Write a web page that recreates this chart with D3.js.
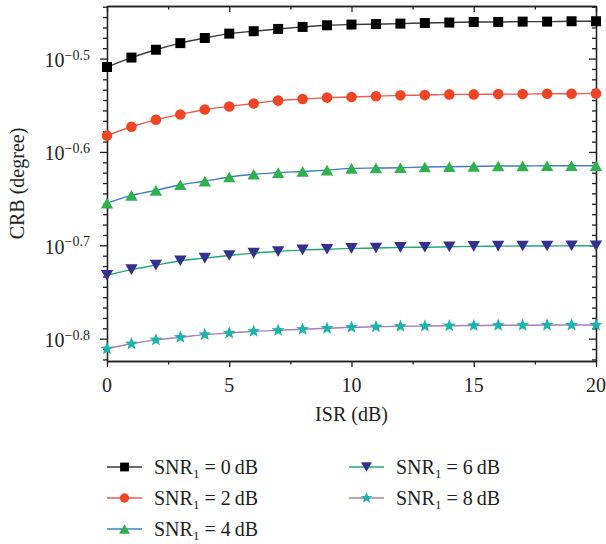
<!DOCTYPE html>
<html>
<head>
	<meta charset="utf-8">
	<style>
		html, body {
			margin: 0;
			padding: 0;
			background: #fff;
		}
		svg text {
			font-family: 'Liberation Serif', 'DejaVu Serif', serif;
			fill: #231f20;
		}
	</style>
</head>
<body>
	<script src="https://d3js.org/d3.v7.min.js"></script>
	<script>
		// ISR values on the x axis (dB)
		var isr = [0, 1, 2, 3, 4, 5, 6, 7, 8, 9, 10, 11, 12, 13, 14, 15, 16, 17, 18, 19, 20];

		// CRB (degree), one array per SNR1
		var crb0 = [0.3097, 0.3170, 0.3232, 0.3285, 0.3327, 0.3363, 0.3383, 0.3402, 0.3419, 0.3433, 0.3439,
			0.3443, 0.3447, 0.3452, 0.3456, 0.3461, 0.3461, 0.3464, 0.3464, 0.3467, 0.3467];
		var crb2 = [0.2615, 0.2673, 0.2719, 0.2755, 0.2789, 0.2810, 0.2831, 0.2851, 0.2862, 0.2872, 0.2876,
			0.2882, 0.2888, 0.2890, 0.2895, 0.2895, 0.2897, 0.2897, 0.2900, 0.2900, 0.2902];
		var crb4 = [0.2214, 0.2257, 0.2285, 0.2317, 0.2337, 0.2361, 0.2377, 0.2387, 0.2394, 0.2402, 0.2412,
			0.2414, 0.2416, 0.2420, 0.2422, 0.2424, 0.2426, 0.2426, 0.2428, 0.2428, 0.2428];
		var crb6 = [0.1853, 0.1879, 0.1900, 0.1921, 0.1933, 0.1946, 0.1957, 0.1965, 0.1973, 0.1976, 0.1980,
			0.1982, 0.1985, 0.1986, 0.1988, 0.1990, 0.1991, 0.1992, 0.1992, 0.1993, 0.1993];
		var crb8 = [0.1546, 0.1565, 0.1580, 0.1590, 0.1601, 0.1607, 0.1614, 0.1618, 0.1622, 0.1626, 0.1630,
			0.1632, 0.1634, 0.1635, 0.1636, 0.1637, 0.1638, 0.1638, 0.1639, 0.1639, 0.1639];

		var snrLabels = ["0", "2", "4", "6", "8"];
		var xTicks = [0, 5, 10, 15, 20];
		var yTickExps = [-0.8, -0.7, -0.6, -0.5];
		var yTickLabels = ["\u22120.8", "\u22120.7", "\u22120.6", "\u22120.5"];

		var series = [crb0, crb2, crb4, crb6, crb8];
		var lineColors = ["#3a3a3a", "#f25a4c", "#3b7fc4", "#1fa877", "#a97cc0"];
		var markColors = ["#000000", "#f04524", "#2eb04b", "#35308f", "#19b5aa"];
		var shapes = ["square", "circle", "up", "down", "star"];

		var L = 107, R = 596, T = 6, B = 361;

		var svg = d3.select("body").append("svg")
			.attr("width", 606)
			.attr("height", 544);

		var x = d3.scaleLinear().domain([0, 20]).range([L, R]);
		var y = d3.scaleLog().domain([0.15, 0.36]).range([B, T]);

		// minor tick positions: 8 per tenth of a decade
		var xMinor = [2.5, 7.5, 12.5, 17.5];
		var yMinor = [];
		for (var k = -2; k <= 32; k++) {
			if (k % 9 == 0) continue;
			var v = Math.pow(10, -0.8 + k * 0.1 / 9);
			if (v >= 0.15 && v <= 0.36) yMinor.push(v);
		}
		var yMajor = yTickExps.map(function(e) { return Math.pow(10, e); });

		function styleAxis(g) {
			g.selectAll("path, line")
				.attr("stroke", "#231f20")
				.attr("stroke-width", 1.3);
			g.selectAll("text").remove();
		}

		// minor ticks first, then major with labels
		svg.append("g").attr("transform", "translate(0," + B + ")")
			.call(d3.axisBottom(x).tickValues(xMinor).tickSize(3.5).tickSizeOuter(0)).call(styleAxis);
		svg.append("g").attr("transform", "translate(0," + T + ")")
			.call(d3.axisTop(x).tickValues(xMinor).tickSize(-3.5).tickSizeOuter(0)).call(styleAxis);
		svg.append("g").attr("transform", "translate(" + L + ",0)")
			.call(d3.axisLeft(y).tickValues(yMinor).tickSize(4).tickSizeOuter(0)).call(styleAxis);
		svg.append("g").attr("transform", "translate(" + R + ",0)")
			.call(d3.axisRight(y).tickValues(yMinor).tickSize(-4).tickSizeOuter(0)).call(styleAxis);

		svg.append("g").attr("transform", "translate(0," + B + ")")
			.call(d3.axisBottom(x).tickValues(xTicks).tickSize(6).tickSizeOuter(0)).call(styleAxis);
		svg.append("g").attr("transform", "translate(0," + T + ")")
			.call(d3.axisTop(x).tickValues(xTicks).tickSize(-6).tickSizeOuter(0)).call(styleAxis);
		svg.append("g").attr("transform", "translate(" + L + ",0)")
			.call(d3.axisLeft(y).tickValues(yMajor).tickSize(7).tickSizeOuter(0)).call(styleAxis);
		svg.append("g").attr("transform", "translate(" + R + ",0)")
			.call(d3.axisRight(y).tickValues(yMajor).tickSize(-7).tickSizeOuter(0)).call(styleAxis);

		// tick labels
		svg.selectAll(".xlab")
			.data(xTicks)
			.enter()
		  .append("text")
			.attr("class", "xlab")
			.attr("x", function(d) { return x(d); })
			.attr("y", B + 31)
			.attr("text-anchor", "middle")
			.attr("font-size", "20px")
			.text(function(d) { return d; });

		var ylab = svg.selectAll(".ylab")
			.data(yMajor)
			.enter()
		  .append("text")
			.attr("class", "ylab")
			.attr("x", 90)
			.attr("y", function(d) { return y(d) + 8.5; })
			.attr("text-anchor", "end")
			.attr("font-size", "20px");
		ylab.append("tspan").text("10");
		ylab.append("tspan")
			.attr("dy", -7.5)
			.attr("font-size", "14px")
			.text(function(d, i) { return yTickLabels[i]; });

		// axis titles
		svg.append("text")
			.attr("x", (L + R) / 2)
			.attr("y", 421)
			.attr("text-anchor", "middle")
			.attr("font-size", "20px")
			.text("ISR (dB)");

		svg.append("text")
			.attr("transform", "translate(24," + ((T + B) / 2) + ") rotate(-90)")
			.attr("text-anchor", "middle")
			.attr("font-size", "20px")
			.text("CRB (degree)");

		// markers
		function markerPath(shape, s) {
			if (shape == "square") {
				return "M" + (-5 * s) + "," + (-5 * s) + "h" + (10 * s) + "v" + (10 * s) + "h" + (-10 * s) + "Z";
			}
			if (shape == "circle") {
				var r = 5.3 * s;
				return "M" + (-r) + ",0A" + r + "," + r + " 0 1,0 " + r + ",0A" + r + "," + r + " 0 1,0 " + (-r) + ",0Z";
			}
			if (shape == "up") {
				return "M0," + (-5.3 * s) + "L" + (6.2 * s) + "," + (5.3 * s) + "L" + (-6.2 * s) + "," + (5.3 * s) + "Z";
			}
			if (shape == "down") {
				return "M0," + (5.3 * s) + "L" + (6.2 * s) + "," + (-5.3 * s) + "L" + (-6.2 * s) + "," + (-5.3 * s) + "Z";
			}
			var p = [];
			for (var j = 0; j < 10; j++) {
				var rr = (j % 2 == 0 ? 6.8 : 2.9) * s;
				var a = -Math.PI / 2 + j * Math.PI / 5;
				p.push([rr * Math.cos(a), rr * Math.sin(a)]);
			}
			return "M" + p.join("L") + "Z";
		}

		var line = d3.line()
			.x(function(d, i) { return x(isr[i]); })
			.y(function(d) { return y(d); })
			.curve(d3.curveMonotoneX);

		series.forEach(function(vals, si) {
			svg.append("path")
				.attr("d", line(vals))
				.attr("fill", "none")
				.attr("stroke", lineColors[si])
				.attr("stroke-width", 1.4);

			svg.selectAll(".m" + si)
				.data(vals)
				.enter()
			  .append("path")
				.attr("class", "m" + si)
				.attr("transform", function(d, i) { return "translate(" + x(isr[i]) + "," + y(d) + ")"; })
				.attr("d", markerPath(shapes[si], 1))
				.attr("fill", markColors[si]);
		});

		// legend
		var leg = svg.selectAll(".leg")
			.data(snrLabels)
			.enter()
		  .append("g")
			.attr("class", "leg")
			.attr("transform", function(d, i) {
				var col = i < 3 ? 0 : 1;
				var row = i < 3 ? i : i - 3;
				return "translate(" + (col == 0 ? 107 : 349) + "," + (467 + row * 31) + ")";
			});

		leg.append("line")
			.attr("x1", 0).attr("x2", 35)
			.attr("stroke", function(d, i) { return lineColors[i]; })
			.attr("stroke-width", 1.4);

		leg.append("path")
			.attr("transform", "translate(17.5,0)")
			.attr("d", function(d, i) { return markerPath(shapes[i], 0.88); })
			.attr("fill", function(d, i) { return markColors[i]; });

		var lt = leg.append("text")
			.attr("x", 47)
			.attr("y", 6.5)
			.attr("font-size", "20px");
		lt.append("tspan").text("SNR");
		lt.append("tspan").attr("dy", 4).attr("font-size", "13px").text("1");
		lt.append("tspan").attr("dy", -4).text(function(d) { return " = " + d + "\u2009dB"; });
	</script>
</body>
</html>
